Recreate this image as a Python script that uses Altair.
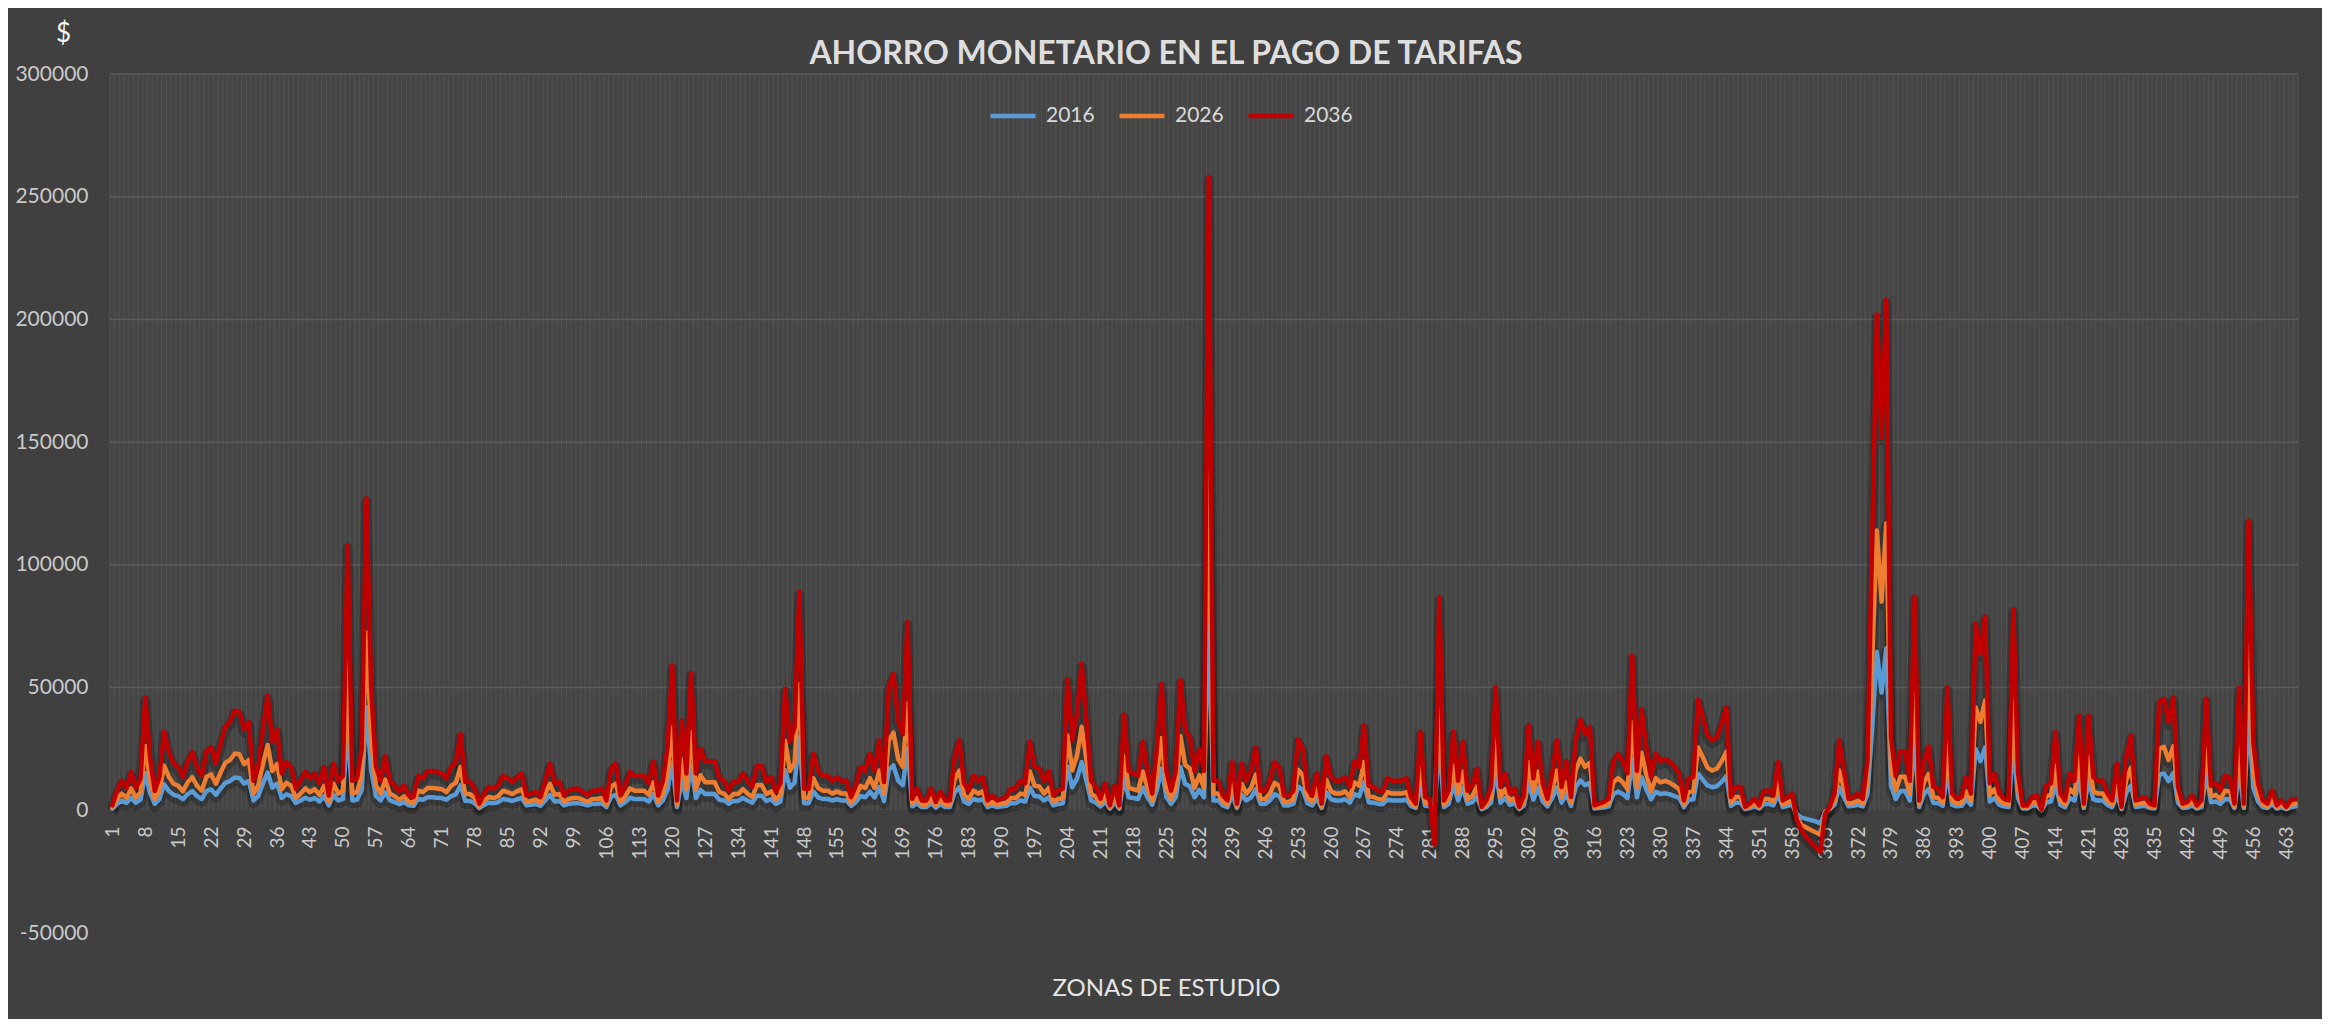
import altair as alt
import pandas as pd

# ---------------- data (values in thousands of $) ----------------
zonas = list(range(1, 466))
series_names = ["2016", "2026", "2036"]
series_colors = ["#5B9BD5", "#ED7D31", "#C00000"]
y_ticks = [-50000, 0, 50000, 100000, 150000, 200000, 250000, 300000]
x_tick_labels = list(range(1, 466, 7))

ahorro_2036 = [
2, 8, 12, 9, 15.6, 9, 13, 46, 21.7, 8,
13.5, 32, 24, 19, 17.6, 13.5, 20, 23.7, 17.6, 14,
24, 25.7, 19, 27, 34, 36, 40.6, 40, 33, 36,
12, 17.6, 33, 46.7, 28, 33, 15, 19.6, 17.6, 8.8,
12, 15.6, 13, 15, 11, 17.6, 6, 19, 12, 14,
108, 12, 13, 25, 127, 50, 18, 12, 22, 12,
10, 7.5, 10, 6, 5.4, 14, 13, 16, 16, 15.6,
15, 13, 17.6, 19.6, 31, 11.5, 11.5, 8.8, 2.7, 6.8,
9.5, 8.8, 10, 14, 13, 11.5, 13.5, 15, 6, 6.8,
7.5, 5.4, 12, 19, 11, 11.5, 6, 8, 8.8, 8.8,
7.5, 6, 8, 8, 8.8, 4, 17, 19, 6, 10,
15.6, 14, 14, 14, 11, 20, 6, 12, 25.7, 59,
4, 36.6, 15, 56, 15, 25, 20, 20, 20, 13,
12, 8, 11.5, 11.5, 15, 12, 9.5, 18, 18, 11.5,
13.5, 7.5, 11, 49.5, 28, 34, 89, 8.8, 8.8, 23,
16, 14, 14, 12, 13.5, 12, 12, 5.4, 10, 17.6,
16, 23, 16, 28.5, 11.5, 50, 55.5, 36.6, 31, 76.6,
4.7, 8.8, 4, 4, 8.8, 3.4, 7.5, 4, 4, 21.7,
28.5, 11, 8, 14, 12, 13.5, 4, 6, 4, 4.7,
5.4, 8.8, 8.8, 12, 11, 27.8, 17.6, 17, 12, 16,
6, 8, 8.8, 53.5, 28.5, 39, 59.6, 36.6, 12, 9.5,
4.7, 11, 2, 10, 2, 39, 16, 15, 14, 27.8,
16, 6.8, 25.7, 51.5, 16, 8, 16, 53, 32.5, 29.8,
16, 25, 16, 258, 12, 12, 6, 4, 19.6, 2.7,
19, 12, 16, 25.7, 8, 8, 12, 19.6, 17.6, 6,
6, 8, 29, 25, 8.8, 6, 15, 2.7, 22, 13.5,
12, 12, 13.5, 9.5, 20, 17.6, 34.5, 10, 9.5, 8,
7.5, 13, 12, 12, 12, 13, 5.4, 2.7, 31.8, 5.4,
4.7, -14, 86.7, 4, 8, 32, 12, 27.8, 8, 10,
17, 1.4, 4, 9.5, 50, 9.5, 15, 6.8, 8.8, 1.4,
6, 34.5, 13, 27.8, 11, 4.7, 15, 28.5, 9.5, 20,
5.4, 28.5, 37, 31, 34, 2, 2.7, 3.4, 4.7, 20,
23, 20, 15, 63, 16, 41, 25.7, 13.5, 23, 20,
21, 19.6, 17.6, 15, 4, 13, 13.5, 45, 38, 30.5,
28.5, 29.8, 35, 42, 5.4, 9.5, 9.5, 1.4, 2.7, 4.7,
2, 8, 8, 6, 19.6, 4, 5.4, 6.8, -4, -8,
-11, -13, -15, -17, -1.5, 1.4, 6.8, 28.5, 16, 4.7,
5.4, 6.8, 4.7, 20, 110, 202, 152, 208, 30, 14,
24, 24, 12, 87, 4, 20, 26, 9.5, 8.8, 5.4,
50, 6.8, 4.7, 5.4, 13.5, 6.8, 76, 63.7, 79, 11,
15, 6.8, 4.7, 4, 82, 15, 2, 2, 5.4, 6,
0.3, 10, 11, 31.8, 6.8, 4, 15, 12, 38.6, 2.7,
38.6, 13.5, 12, 12, 6.8, 4, 19, 1.4, 21.7, 30.5,
4, 4.7, 5.4, 2.7, 2, 44, 45.4, 36, 46, 9.5,
2.7, 3.4, 6, 2, 4, 45.4, 10, 11, 8, 14,
13.5, 2.7, 50, 2.7, 118, 28, 11, 4, 2.7, 8,
2, 4, 1.4, 4, 4.7,
]

ahorro_2026 = [
1.1, 4.6, 6.8, 5.1, 8.9, 5.1, 7.4, 26.2, 12.4, 4.6,
7.7, 18.2, 13.7, 10.8, 10.0, 7.7, 11.4, 13.5, 10.0, 8.0,
13.7, 14.6, 10.8, 15.4, 19.4, 20.5, 23.1, 22.8, 18.8, 20.5,
6.8, 10.0, 18.8, 26.6, 16.0, 18.8, 8.6, 11.2, 10.0, 5.0,
6.8, 8.9, 7.4, 8.6, 6.3, 10.0, 3.4, 10.8, 6.8, 8.0,
61.6, 6.8, 7.4, 14.3, 72.4, 28.5, 10.3, 6.8, 12.5, 6.8,
5.7, 4.3, 5.7, 3.4, 3.1, 8.0, 7.4, 9.1, 9.1, 8.9,
8.6, 7.4, 10.0, 11.2, 17.7, 6.6, 6.6, 5.0, 1.5, 3.9,
5.4, 5.0, 5.7, 8.0, 7.4, 6.6, 7.7, 8.6, 3.4, 3.9,
4.3, 3.1, 6.8, 10.8, 6.3, 6.6, 3.4, 4.6, 5.0, 5.0,
4.3, 3.4, 4.6, 4.6, 5.0, 2.3, 9.7, 10.8, 3.4, 5.7,
8.9, 8.0, 8.0, 8.0, 6.3, 11.4, 3.4, 6.8, 14.6, 33.6,
2.3, 20.9, 8.6, 31.9, 8.6, 14.3, 11.4, 11.4, 11.4, 7.4,
6.8, 4.6, 6.6, 6.6, 8.6, 6.8, 5.4, 10.3, 10.3, 6.6,
7.7, 4.3, 6.3, 28.2, 16.0, 19.4, 51.5, 5.0, 5.0, 13.1,
9.1, 8.0, 8.0, 6.8, 7.7, 6.8, 6.8, 3.1, 5.7, 10.0,
9.1, 13.1, 9.1, 16.2, 6.6, 28.5, 31.6, 20.9, 17.7, 43.7,
2.7, 5.0, 2.3, 2.3, 5.0, 1.9, 4.3, 2.3, 2.3, 12.4,
16.2, 6.3, 4.6, 8.0, 6.8, 7.7, 2.3, 3.4, 2.3, 2.7,
3.1, 5.0, 5.0, 6.8, 6.3, 15.8, 10.0, 9.7, 6.8, 9.1,
3.4, 4.6, 5.0, 30.5, 16.2, 22.2, 34.0, 20.9, 6.8, 5.4,
2.7, 6.3, 1.1, 5.7, 1.1, 22.2, 9.1, 8.6, 8.0, 15.8,
9.1, 3.9, 14.6, 29.4, 9.1, 4.6, 9.1, 30.2, 18.5, 17.0,
9.1, 14.3, 9.1, 145, 6.8, 6.8, 3.4, 2.3, 11.2, 1.5,
10.8, 6.8, 9.1, 14.6, 4.6, 4.6, 6.8, 11.2, 10.0, 3.4,
3.4, 4.6, 16.5, 14.3, 5.0, 3.4, 8.6, 1.5, 12.5, 7.7,
6.8, 6.8, 7.7, 5.4, 11.4, 10.0, 19.7, 5.7, 5.4, 4.6,
4.3, 7.4, 6.8, 6.8, 6.8, 7.4, 3.1, 1.5, 18.1, 3.1,
2.7, 0.5, 49.4, 2.3, 4.6, 18.2, 6.8, 15.8, 4.6, 5.7,
9.7, 0.8, 2.3, 5.4, 28.5, 5.4, 8.6, 3.9, 5.0, 0.8,
3.4, 19.7, 7.4, 15.8, 6.3, 2.7, 8.6, 16.2, 5.4, 11.4,
3.1, 16.2, 21.1, 17.7, 19.4, 1.1, 1.5, 1.9, 2.7, 11.4,
13.1, 11.4, 8.6, 35.9, 9.1, 23.4, 14.6, 7.7, 13.1, 11.4,
12.0, 11.2, 10.0, 8.6, 2.3, 7.4, 7.7, 25.7, 21.7, 17.4,
16.2, 17.0, 20.0, 23.9, 3.1, 5.4, 5.4, 0.8, 1.5, 2.7,
1.1, 4.6, 4.6, 3.4, 11.2, 2.3, 3.1, 3.9, -3, -6,
-7, -8, -9, -10, -1, 0.8, 3.9, 16.2, 9.1, 2.7,
3.1, 3.9, 2.7, 11.4, 60, 114, 85, 117, 17.1, 8.0,
13.7, 13.7, 6.8, 49.6, 2.3, 11.4, 14.8, 5.4, 5.0, 3.1,
28.5, 3.9, 2.7, 3.1, 7.7, 3.9, 42, 36, 44.7, 6.3,
8.6, 3.9, 2.7, 2.3, 46.7, 8.6, 1.1, 1.1, 3.1, 3.4,
0.2, 5.7, 6.3, 18.1, 3.9, 2.3, 8.6, 6.8, 22.0, 1.5,
22.0, 7.7, 6.8, 6.8, 3.9, 2.3, 10.8, 0.8, 12.4, 17.4,
2.3, 2.7, 3.1, 1.5, 1.1, 25.1, 25.9, 20.5, 26.2, 5.4,
1.5, 1.9, 3.4, 1.1, 2.3, 25.9, 5.7, 6.3, 4.6, 8.0,
7.7, 1.5, 28.5, 1.5, 67.3, 16.0, 6.3, 2.3, 1.5, 4.6,
1.1, 2.3, 0.8, 2.3, 2.7,
]

ahorro_2016 = [
0.7, 2.6, 4.0, 3.0, 5.1, 3.0, 4.3, 15.2, 7.2, 2.6,
4.5, 10.6, 7.9, 6.3, 5.8, 4.5, 6.6, 7.8, 5.8, 4.6,
7.9, 8.5, 6.3, 8.9, 11.2, 11.9, 13.4, 13.2, 10.9, 11.9,
4.0, 5.8, 10.9, 15.4, 9.2, 10.9, 5.0, 6.5, 5.8, 2.9,
4.0, 5.1, 4.3, 5.0, 3.6, 5.8, 2.0, 6.3, 4.0, 4.6,
35.6, 4.0, 4.3, 8.3, 41.9, 16.5, 5.9, 4.0, 7.3, 4.0,
3.3, 2.5, 3.3, 2.0, 1.8, 4.6, 4.3, 5.3, 5.3, 5.1,
5.0, 4.3, 5.8, 6.5, 10.2, 3.8, 3.8, 2.9, 0.9, 2.2,
3.1, 2.9, 3.3, 4.6, 4.3, 3.8, 4.5, 5.0, 2.0, 2.2,
2.5, 1.8, 4.0, 6.3, 3.6, 3.8, 2.0, 2.6, 2.9, 2.9,
2.5, 2.0, 2.6, 2.6, 2.9, 1.3, 5.6, 6.3, 2.0, 3.3,
5.1, 4.6, 4.6, 4.6, 3.6, 6.6, 2.0, 4.0, 8.5, 19.5,
1.3, 12.1, 5.0, 18.5, 5.0, 8.3, 6.6, 6.6, 6.6, 4.3,
4.0, 2.6, 3.8, 3.8, 5.0, 4.0, 3.1, 5.9, 5.9, 3.8,
4.5, 2.5, 3.6, 16.3, 9.2, 11.2, 30.0, 2.9, 2.9, 7.6,
5.3, 4.6, 4.6, 4.0, 4.5, 4.0, 4.0, 1.8, 3.3, 5.8,
5.3, 7.6, 5.3, 9.4, 3.8, 16.5, 18.3, 12.1, 10.2, 25.3,
1.6, 2.9, 1.3, 1.3, 2.9, 1.1, 2.5, 1.3, 1.3, 7.2,
9.4, 3.6, 2.6, 4.6, 4.0, 4.5, 1.3, 2.0, 1.3, 1.6,
1.8, 2.9, 2.9, 4.0, 3.6, 9.2, 5.8, 5.6, 4.0, 5.3,
2.0, 2.6, 2.9, 17.7, 9.4, 12.9, 19.7, 12.1, 4.0, 3.1,
1.6, 3.6, 0.7, 3.3, 0.7, 12.9, 5.3, 5.0, 4.6, 9.2,
5.3, 2.2, 8.5, 17.0, 5.3, 2.6, 5.3, 17.5, 10.7, 9.8,
5.3, 8.3, 5.3, 80, 4.0, 4.0, 2.0, 1.3, 6.5, 0.9,
6.3, 4.0, 5.3, 8.5, 2.6, 2.6, 4.0, 6.5, 5.8, 2.0,
2.0, 2.6, 9.6, 8.3, 2.9, 2.0, 5.0, 0.9, 7.3, 4.5,
4.0, 4.0, 4.5, 3.1, 6.6, 5.8, 11.4, 3.3, 3.1, 2.6,
2.5, 4.3, 4.0, 4.0, 4.0, 4.3, 1.8, 0.9, 10.5, 1.8,
1.6, 0.3, 28.6, 1.3, 2.6, 10.6, 4.0, 9.2, 2.6, 3.3,
5.6, 0.5, 1.3, 3.1, 16.5, 3.1, 5.0, 2.2, 2.9, 0.5,
2.0, 11.4, 4.3, 9.2, 3.6, 1.6, 5.0, 9.4, 3.1, 6.6,
1.8, 9.4, 12.2, 10.2, 11.2, 0.7, 0.9, 1.1, 1.6, 6.6,
7.6, 6.6, 5.0, 20.8, 5.3, 13.5, 8.5, 4.5, 7.6, 6.6,
6.9, 6.5, 5.8, 5.0, 1.3, 4.3, 4.5, 14.9, 12.5, 10.1,
9.4, 9.8, 11.6, 13.9, 1.8, 3.1, 3.1, 0.5, 0.9, 1.6,
0.7, 2.6, 2.6, 2.0, 6.5, 1.3, 1.8, 2.2, -1.5, -3,
-3.5, -4, -4.5, -5.5, -0.5, 0.5, 2.2, 9.4, 5.3, 1.6,
1.8, 2.2, 1.6, 6.6, 33, 64.5, 48, 66, 9.9, 4.6,
7.9, 7.9, 4.0, 28.7, 1.3, 6.6, 8.6, 3.1, 2.9, 1.8,
16.5, 2.2, 1.6, 1.8, 4.5, 2.2, 25, 20, 25.7, 3.6,
5.0, 2.2, 1.6, 1.3, 27.1, 5.0, 0.7, 0.7, 1.8, 2.0,
0.1, 3.3, 3.6, 10.5, 2.2, 1.3, 5.0, 4.0, 12.7, 0.9,
12.7, 4.5, 4.0, 4.0, 2.2, 1.3, 6.3, 0.5, 7.2, 10.1,
1.3, 1.6, 1.8, 0.9, 0.7, 14.5, 15.0, 11.9, 15.2, 3.1,
0.9, 1.1, 2.0, 0.7, 1.3, 15.0, 3.3, 3.6, 2.6, 4.6,
4.5, 0.9, 16.5, 0.9, 38.9, 9.2, 3.6, 1.3, 0.9, 2.6,
0.7, 1.3, 0.5, 1.3, 1.6,
]

# ---------------- tables ----------------
rows = []
for name, vals in zip(series_names, [ahorro_2016, ahorro_2026, ahorro_2036]):
    for z, v in zip(zonas, vals):
        rows.append({"zona": z, "serie": name, "ahorro": v * 1000})
df = pd.DataFrame(rows)

x_lo, x_hi = 0.5, len(zonas) + 0.5
y_lo, y_hi = y_ticks[0], y_ticks[-1]

bg_df = pd.DataFrame({"zona": [x_lo], "zona_fin": [x_hi], "ahorro": [0], "ahorro_fin": [y_hi]})
vgrid_df = pd.DataFrame({"zona": [z + 0.5 for z in range(0, len(zonas) + 1)]})
vgrid_df["ahorro"] = 0
vgrid_df["ahorro_fin"] = y_hi
hgrid_df = pd.DataFrame({"ahorro": [t for t in y_ticks if t > 0]})

FONT = "Lato"

x_enc = alt.X(
    "zona:Q",
    scale=alt.Scale(domain=[x_lo, x_hi], nice=False, zero=False),
    axis=alt.Axis(
        values=x_tick_labels, labelAngle=270, labelFontSize=19, labelColor="#c9c9c9",
        labelFont=FONT, ticks=False, domain=False, grid=False, offset=-123,
        labelPadding=16, labelOverlap=False, labelFlush=False,
        title="ZONAS DE ESTUDIO", titleFontSize=24, titleFont=FONT,
        titleFontWeight="normal", titleColor="#e6e6e6", titleX=1056, titleY=178,
        titleAlign="center", titleBaseline="middle",
    ),
)
y_enc = alt.Y(
    "ahorro:Q",
    scale=alt.Scale(domain=[y_lo, y_hi], nice=False, zero=False),
    axis=alt.Axis(
        values=y_ticks, labelFontSize=21, labelColor="#c9c9c9", labelFont=FONT,
        labelExpr="'' + datum.value", ticks=False, domain=False, grid=False,
        labelPadding=22, title="$", titleAngle=0, titleFontSize=26,
        titleColor="#f2f2f2", titleFont=FONT, titleFontWeight="normal",
        titleX=-47, titleY=-41, titleAlign="center", titleBaseline="middle",
    ),
)

bg = alt.Chart(bg_df).mark_rect(fill="#454545").encode(
    x=x_enc, x2="zona_fin:Q", y=y_enc, y2="ahorro_fin:Q"
)
vgrid = alt.Chart(vgrid_df).mark_rule(color="#525252", strokeWidth=1).encode(
    x=x_enc, y=y_enc, y2="ahorro_fin:Q"
)
hgrid = alt.Chart(hgrid_df).mark_rule(color="#5c5c5c", strokeWidth=1.5).encode(y=y_enc)

shadow = alt.Chart(df).mark_line(
    color="#000000", opacity=0.22, strokeWidth=10, strokeJoin="round", yOffset=3
).encode(x=x_enc, y=y_enc, detail="serie:N", order=alt.Order("zona:Q"))

lines = alt.Chart(df).mark_line(strokeJoin="round", strokeCap="round").encode(
    x=x_enc,
    y=y_enc,
    color=alt.Color(
        "serie:N",
        scale=alt.Scale(domain=series_names, range=series_colors),
        legend=alt.Legend(
            title=None, orient="none", legendX=878, legendY=17, direction="horizontal",
            symbolType="stroke", symbolSize=2025, symbolStrokeWidth=4,
            labelFontSize=21, labelFont=FONT, labelColor="#d9d9d9", labelOffset=8,
            columnPadding=15, padding=0,
        ),
    ),
    strokeWidth=alt.StrokeWidth(
        "serie:N", scale=alt.Scale(domain=series_names, range=[4.5, 4.5, 5.5]), legend=None
    ),
    order=alt.Order("zona:Q"),
)

chart = (
    alt.layer(bg, vgrid, hgrid, shadow, lines)
    .properties(
        width=2188,
        height=859,
        autosize=alt.AutoSizeParams(type="none"),
        padding={"left": 102, "top": 66, "right": 24, "bottom": 86},
        background="#404040",
        title=alt.Title(
            "AHORRO MONETARIO EN EL PAGO DE TARIFAS", font=FONT, fontSize=32,
            fontWeight="bold", color="#dedede", anchor="middle", frame="group",
            dx=-38, offset=-76, baseline="alphabetic",
        ),
    )
    .configure_view(stroke=None)
)

chart.save("out.html", embed_options={"renderer": "svg", "actions": False})
